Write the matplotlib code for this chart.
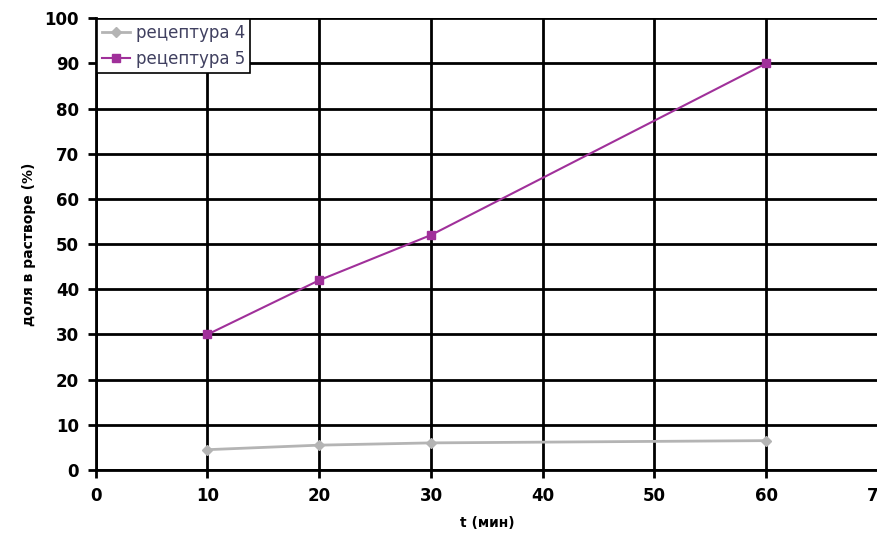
import matplotlib
matplotlib.use("Agg")
import matplotlib.pyplot as plt

t_values = [10, 20, 30, 60]
series4 = [4.5, 5.5, 6.0, 6.5]
series5 = [30, 42, 52, 90]
labels = ["рецептура 4", "рецептура 5"]
x_ticks = [0, 10, 20, 30, 40, 50, 60, 70]
y_ticks = [0, 10, 20, 30, 40, 50, 60, 70, 80, 90, 100]

fig = plt.figure(figsize=(8.78, 5.35), dpi=100)
ax = fig.add_axes([0.109, 0.1215, 0.891, 0.8445])

ax.plot(t_values, series4, color="#b4b4b4", lw=2, marker="D", ms=5, label=labels[0], zorder=3)
ax.plot(t_values, series5, color="#a0309a", lw=1.5, marker="s", ms=6, label=labels[1], zorder=3)

ax.set_xlim(0, 70)
ax.set_ylim(0, 100)
ax.set_xticks(x_ticks)
ax.set_yticks(y_ticks)
ax.grid(True, color="black", lw=2)
ax.set_axisbelow(True)
for s in ["top", "right"]:
    ax.spines[s].set_visible(False)
for s in ["left", "bottom"]:
    ax.spines[s].set_linewidth(2)
ax.tick_params(direction="out", length=6, width=2, labelsize=12, pad=6)
for lab in ax.get_xticklabels() + ax.get_yticklabels():
    lab.set_fontweight("bold")
ax.set_xlabel("t (мин)", fontsize=10, fontweight="bold", labelpad=8)
ax.set_ylabel("доля в растворе (%)", fontsize=10, fontweight="bold", labelpad=6)

leg = ax.legend(loc="upper left", fontsize=12, frameon=True, fancybox=False,
                borderaxespad=0.05, handlelength=1.7, borderpad=0.3, labelspacing=0.45,
                handletextpad=0.35)
leg.get_frame().set_edgecolor("black")
leg.get_frame().set_linewidth(1.2)
leg.get_frame().set_alpha(1)
for txt in leg.get_texts():
    txt.set_color("#404060")

fig.savefig("out.png", dpi=100)
